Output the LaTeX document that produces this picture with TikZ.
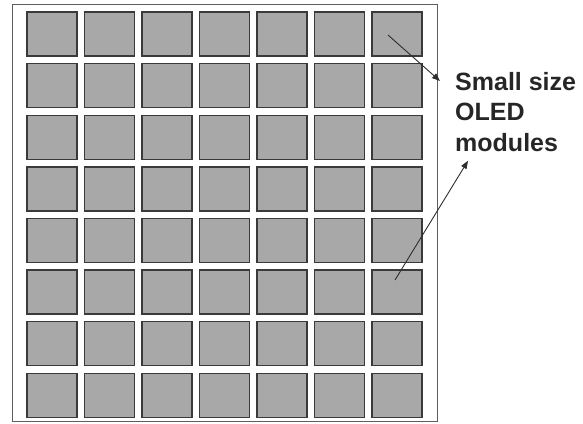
\documentclass[tikz,border=0pt]{standalone}
\usepackage{fontspec}
\setmainfont{Liberation Sans}
\usetikzlibrary{arrows.meta}
\definecolor{modfill}{HTML}{A8A8A8}
\definecolor{modedge}{HTML}{3A3A3A}
\definecolor{frame}{HTML}{5E5E5E}
\definecolor{pointer}{HTML}{2E2E2E}

\begin{document}
\begin{tikzpicture}[x=1pt,y=-1pt,font=\bfseries\fontsize{25}{30.5}\selectfont]
        \useasboundingbox (0,0) rectangle (583,423);
        \draw[frame,line width=1pt] (12,4) rectangle (437,421);
        \foreach \i in {0,...,6}{\foreach \j in {0,...,7}{\node[draw=modedge,fill=modfill,line width=1.4pt,minimum width=50pt,minimum height=44pt,inner sep=0pt] (m\i\j) at (52+\i*57.5,34+\j*51.6) {};}}
        \node[align=left,anchor=north west,inner sep=0pt,text=black!85] (lbl) at (455,72) {Small size\\OLED\\modules};
        \coordinate (froma) at ([xshift=-9pt,yshift=-1pt]m60.center);
        \coordinate (fromb) at ([xshift=-2pt,yshift=12pt]m65.center);
        \draw[-{Triangle[length=8pt,width=6pt]},pointer,line width=0.9pt] (froma) -- ([xshift=-15pt,yshift=-9pt]lbl.north west);
        \draw[-{Triangle[length=8pt,width=6pt]},pointer,line width=0.9pt] (fromb) -- ([xshift=13pt,yshift=-9pt]lbl.south west);
      \end{tikzpicture}
\end{document}
